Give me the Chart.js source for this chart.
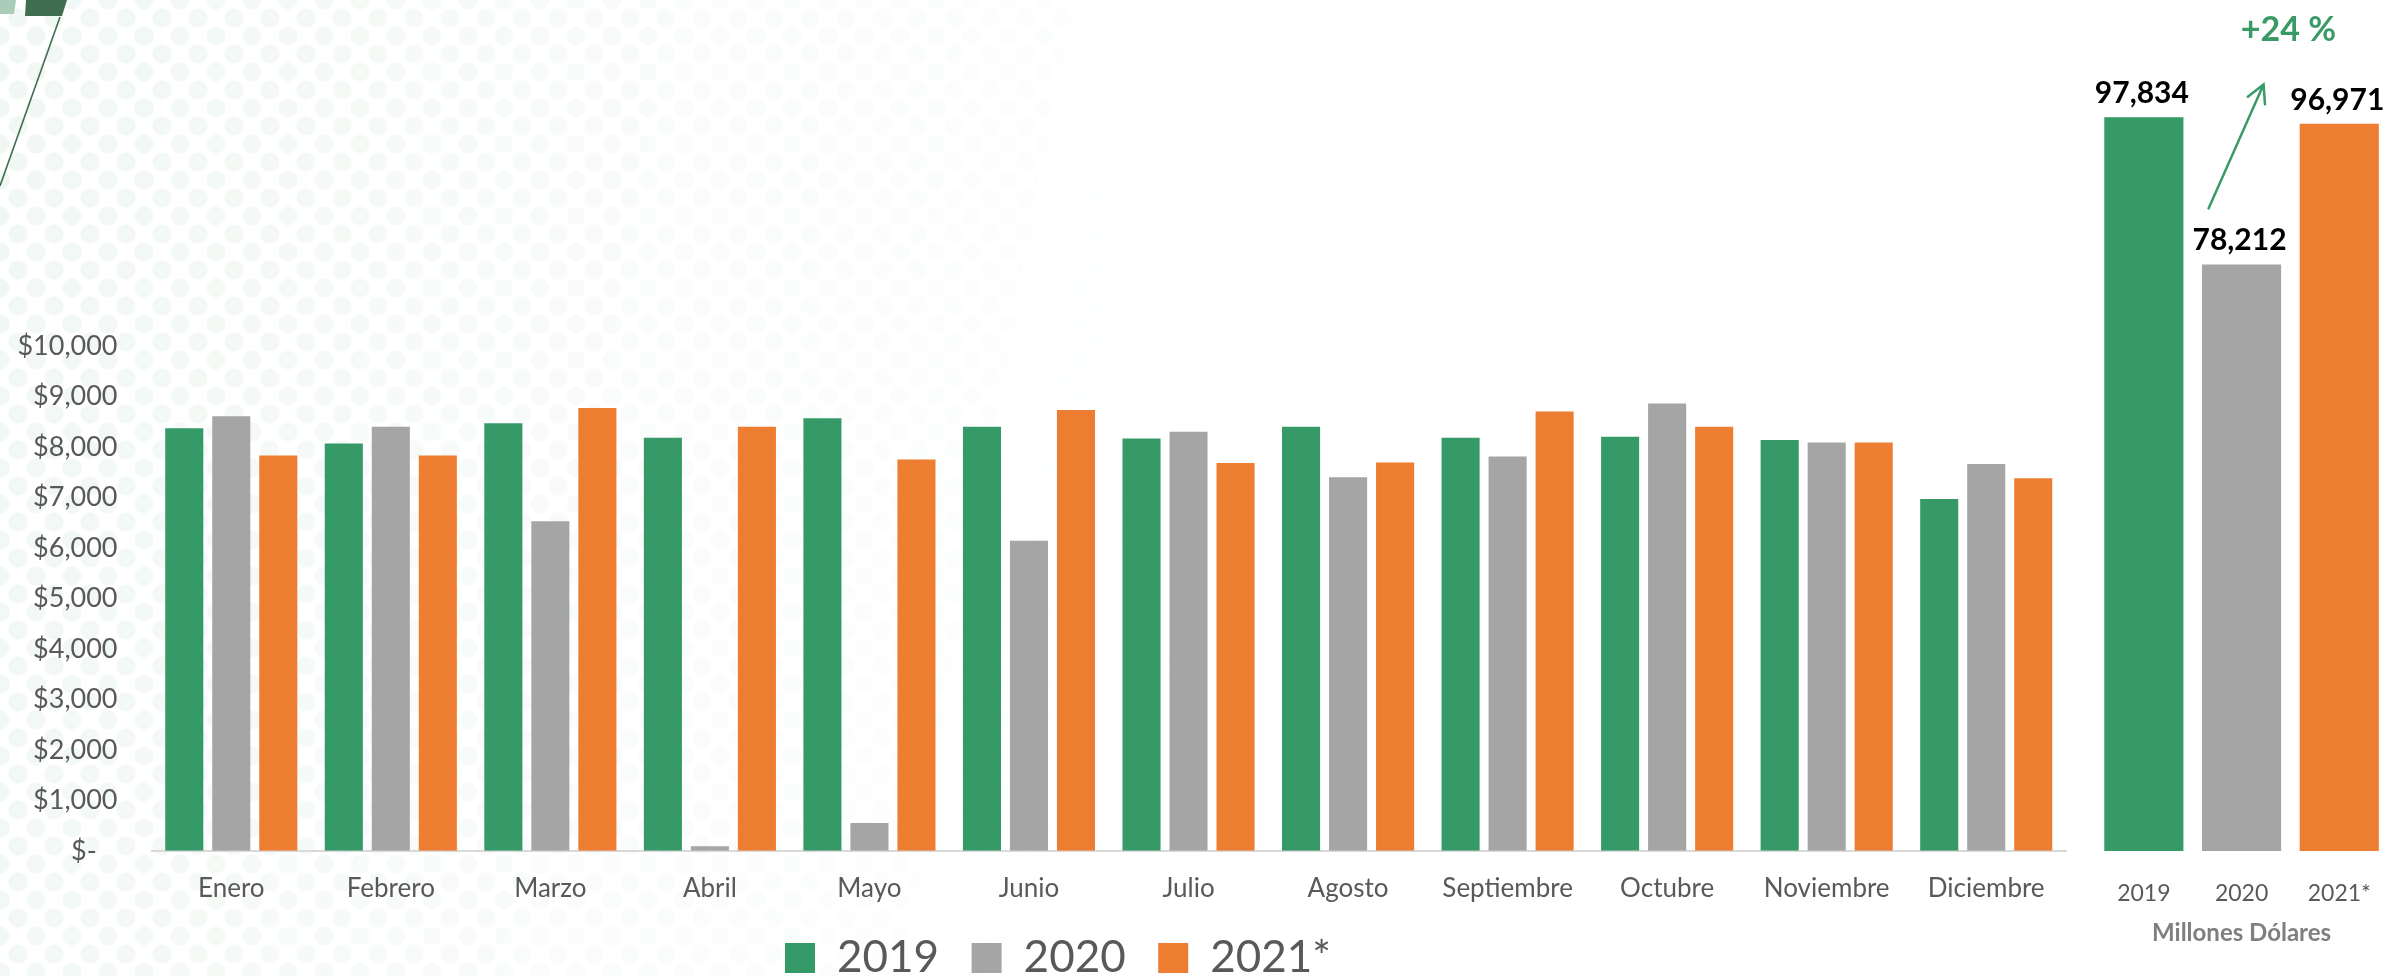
<!DOCTYPE html>
<html lang="es">
<head>
<meta charset="utf-8">
<title>Exportaciones mensuales 2019-2021</title>
<script src="https://cdn.jsdelivr.net/npm/chart.js@4.4.1/dist/chart.umd.min.js"></script>
<style>
  html, body { margin: 0; padding: 0; width: 2400px; height: 976px; overflow: hidden; background: #fff; }
  #puntos {
    position: absolute; left: 0; top: 0; width: 1700px; height: 976px;
    background-image: radial-gradient(circle, #eef6f2 9px, transparent 10px),
                      radial-gradient(circle, #eef6f2 9px, transparent 10px);
    background-size: 36px 36px;
    background-position: 0 0, 18px 18px;
    -webkit-mask-image: linear-gradient(100deg, rgba(0,0,0,.85) 0%, rgba(0,0,0,.4) 35%, transparent 70%);
    mask-image: linear-gradient(100deg, rgba(0,0,0,.85) 0%, rgba(0,0,0,.4) 35%, transparent 70%);
  }
  #deco { position: absolute; left: 0; top: 0; }
  #caja-mensual { position: absolute; left: 0; top: 0; width: 2116px; height: 990px; }
  #caja-anual { position: absolute; left: 2080px; top: 0; width: 320px; height: 976px; }
</style>
</head>
<body>
<div id="puntos"></div>
<svg id="deco" width="80" height="200">
  <polygon points="0,0 16,0 14,14 0,14" fill="#a9cdb9"/>
  <polygon points="26,0 67,0 62,16 25,16" fill="#3f6e50"/>
  <line x1="60" y1="17" x2="0" y2="186" stroke="#3f6e50" stroke-width="1.6"/>
</svg>
<div id="caja-mensual"><canvas id="mensual"></canvas></div>
<div id="caja-anual"><canvas id="anual"></canvas></div>

<script>
// datos mensuales (millones de dólares)
const meses = ['Enero', 'Febrero', 'Marzo', 'Abril', 'Mayo', 'Junio', 'Julio', 'Agosto', 'Septiembre', 'Octubre', 'Noviembre', 'Diciembre'];
const series = ['2019', '2020', '2021*'];
const valores2019 = [8370, 8070, 8470, 8180, 8570, 8400, 8170, 8400, 8180, 8200, 8140, 6970];
const valores2020 = [8610, 8400, 6530, 90, 550, 6140, 8300, 7400, 7810, 8860, 8090, 7660];
const valores2021 = [7830, 7830, 8770, 8400, 7750, 8730, 7680, 7690, 8700, 8400, 8090, 7380];
const yTicks = ['$-', '$1,000', '$2,000', '$3,000', '$4,000', '$5,000', '$6,000', '$7,000', '$8,000', '$9,000', '$10,000'];

// totales anuales
const anios = ['2019', '2020', '2021*'];
const totales = [97834, 78212, 96971];
const crecimiento = '+24 %';
const unidadTotales = 'Millones Dólares';

const colores = ['#359a68', '#a5a5a5', '#ed7d31'];
const verdeTexto = '#3a9a66';

Chart.defaults.font.family = 'Lato, sans-serif';
Chart.defaults.devicePixelRatio = 1;

const valoresPorSerie = [valores2019, valores2020, valores2021];

new Chart(document.getElementById('mensual'), {
    type: 'bar',
    data: {
        labels: meses,
        datasets: series.map((s, i) => ({
            label: s,
            data: valoresPorSerie[i],
            backgroundColor: colores[i],
            categoryPercentage: 0.884,
            barPercentage: 0.81
        }))
    },
    options: {
        responsive: true,
        maintainAspectRatio: false,
        animation: false,
        layout: { padding: { left: 0, right: 0, top: 346, bottom: 0 } },
        plugins: {
            legend: {
                position: 'bottom',
                labels: {
                    boxWidth: 30,
                    boxHeight: 30,
                    padding: 10,
                    color: '#595959',
                    font: { size: 44 },
                    // espacio extra entre elementos sin agrandar la altura de la leyenda
                    generateLabels: (chart) => {
                        const items = Chart.defaults.plugins.legend.labels.generateLabels(chart);
                        items.forEach((it, i) => { if (i < items.length - 1) it.text += '  '; });
                        return items;
                    }
                }
            },
            tooltip: { enabled: false }
        },
        scales: {
            x: {
                grid: { display: false, drawTicks: false },
                border: { color: '#d9d9d9', width: 2 },
                ticks: { color: '#595959', font: { size: 26 }, padding: 22, maxRotation: 0, autoSkip: false }
            },
            y: {
                min: 0,
                max: 10000,
                grid: { display: false, drawTicks: false },
                border: { display: false },
                ticks: {
                    stepSize: 1000,
                    padding: 34,
                    color: '#595959',
                    font: { size: 27 },
                    // "$-" va un poco más a la izquierda, como en el formato contable
                    callback: (v, i) => i === 0 ? yTicks[0] + '   ' : yTicks[i]
                },
                afterFit: (s) => { s.width = 151.5; }
            },
            // eje vacío a la derecha: deja hueco y mantiene la leyenda centrada
            margen: {
                type: 'linear',
                position: 'right',
                grid: { display: false, drawTicks: false },
                border: { display: false },
                ticks: { display: false },
                afterFit: (s) => { s.width = 50; }
            }
        }
    }
});

// etiquetas de totales, flecha y porcentaje
const etiquetasTotales = {
    id: 'etiquetasTotales',
    afterDatasetsDraw(chart) {
        const ctx = chart.ctx;
        const barras = chart.getDatasetMeta(0).data;
        ctx.save();
        ctx.font = 'bold 30px Lato, sans-serif';
        ctx.fillStyle = '#000';
        ctx.textAlign = 'center';
        ctx.textBaseline = 'alphabetic';
        barras.forEach((b, i) => {
            ctx.fillText(totales[i].toLocaleString('en-US'), b.x - 2, b.y - 14);
        });

        const a = barras[1];
        const c = barras[2];
        const x0 = a.x - 33, y0 = a.y - 56;
        const x1 = a.x + 22, y1 = a.y - 180;
        const ang = Math.atan2(y0 - y1, x0 - x1);
        const largo = 20, abre = 28 * Math.PI / 180;
        ctx.strokeStyle = verdeTexto;
        ctx.lineWidth = 2.5;
        ctx.lineCap = 'round';
        ctx.beginPath();
        ctx.moveTo(x0, y0);
        ctx.lineTo(x1, y1);
        ctx.moveTo(x1 + largo * Math.cos(ang + abre), y1 + largo * Math.sin(ang + abre));
        ctx.lineTo(x1, y1);
        ctx.lineTo(x1 + largo * Math.cos(ang - abre), y1 + largo * Math.sin(ang - abre));
        ctx.stroke();

        ctx.font = 'bold 34px Lato, sans-serif';
        ctx.fillStyle = verdeTexto;
        ctx.fillText(crecimiento, (a.x + c.x) / 2 - 2, 41);
        ctx.restore();
    }
};

new Chart(document.getElementById('anual'), {
    type: 'bar',
    data: {
        labels: anios,
        datasets: [{
            data: totales,
            backgroundColor: colores,
            categoryPercentage: 0.9,
            barPercentage: 0.9
        }]
    },
    options: {
        responsive: true,
        maintainAspectRatio: false,
        animation: false,
        layout: { padding: { left: 15, right: 1, top: 101, bottom: 28.6 } },
        plugins: { legend: { display: false }, tooltip: { enabled: false } },
        scales: {
            x: {
                grid: { display: false, drawTicks: false },
                border: { display: false },
                ticks: { color: '#595959', font: { size: 23 }, padding: 29, maxRotation: 0 },
                title: {
                    display: true,
                    text: unidadTotales,
                    color: '#7f7f7f',
                    font: { size: 24, weight: 'bold' },
                    padding: { top: 0, bottom: 0 }
                },
                afterFit: (s) => { s.height = 96.4; }
            },
            y: { display: false, min: 0, max: 100000 }
        }
    },
    plugins: [etiquetasTotales]
});
</script>
</body>
</html>
